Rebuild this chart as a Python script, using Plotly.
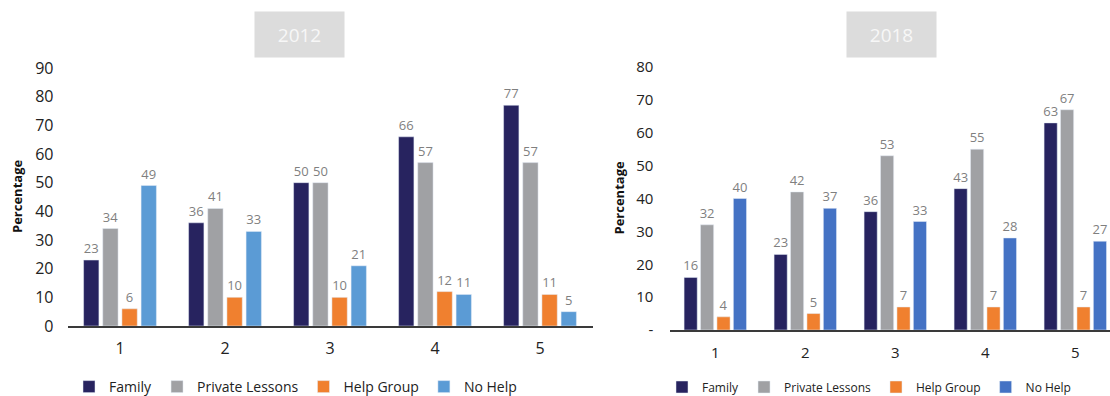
import plotly.graph_objects as go

W, H = 1110, 396

categories = ["1", "2", "3", "4", "5"]
series_names = ["Family", "Private Lessons", "Help Group", "No Help"]

family_2012 = [23, 36, 50, 66, 77]
private_2012 = [34, 41, 50, 57, 57]
helpgroup_2012 = [6, 10, 10, 12, 11]
nohelp_2012 = [49, 33, 21, 11, 5]

family_2018 = [16, 23, 36, 43, 63]
private_2018 = [32, 42, 53, 55, 67]
helpgroup_2018 = [4, 5, 7, 7, 7]
nohelp_2018 = [40, 37, 33, 28, 27]

yticks_2012 = [0, 10, 20, 30, 40, 50, 60, 70, 80, 90]
yticks_2018 = [0, 10, 20, 30, 40, 50, 60, 70, 80]
yticktext_2018 = ["-", "10", "20", "30", "40", "50", "60", "70", "80"]

colors_2012 = ["#27235f", "#a0a1a4", "#f0802f", "#5b9bd5"]
colors_2018 = ["#27235f", "#a0a1a4", "#f0802f", "#4472c4"]

FONT = "Open Sans"
LABEL_GRAY = "#7f7f7f"
DARK = "#222222"

def px_x(p):
    return p / W

def px_y(p):
    return 1 - p / H

fig = go.Figure()

data_2012 = [family_2012, private_2012, helpgroup_2012, nohelp_2012]
data_2018 = [family_2018, private_2018, helpgroup_2018, nohelp_2018]

for name, vals, col in zip(series_names, data_2012, colors_2012):
    fig.add_trace(go.Bar(
        x=categories, y=vals, name=name, marker_color=col,
        text=vals, textposition="outside", cliponaxis=False,
        constraintext="none",
        textfont=dict(family=FONT, size=13, color=LABEL_GRAY),
        xaxis="x", yaxis="y", legend="legend",
    ))

for name, vals, col in zip(series_names, data_2018, colors_2018):
    fig.add_trace(go.Bar(
        x=categories, y=vals, name=name, marker_color=col,
        text=vals, textposition="outside", cliponaxis=False,
        constraintext="none",
        textfont=dict(family=FONT, size=13, color=LABEL_GRAY),
        xaxis="x2", yaxis="y2", legend="legend2",
    ))

# geometry (pixels)
L_x0, L_x1 = 67.5, 592.5
L_y0, L_y1 = 326, 68
R_x0 = 670.3
R_pitch = 90.0
R_y0, R_y1 = 330, 67
R_range_end = -0.5 + (W - R_x0) / R_pitch

fig.update_layout(
    width=W, height=H,
    margin=dict(l=0, r=0, t=0, b=0, autoexpand=False),
    paper_bgcolor="white", plot_bgcolor="white",
    barmode="group", bargap=0.27, bargroupgap=0.2,
    font=dict(family=FONT, color=DARK),
    xaxis=dict(
        domain=[px_x(L_x0), px_x(L_x1)], anchor="y",
        type="category", range=[-0.5, 4.5],
        showline=True, linecolor="#3a3a3a", linewidth=1.5,
        showgrid=False, zeroline=False, ticks="",
        ticklabelstandoff=7,
        tickfont=dict(family=FONT, size=16, color=DARK),
    ),
    yaxis=dict(
        domain=[px_y(L_y0), px_y(L_y1)], anchor="x",
        range=[0, 90], tickvals=yticks_2012,
        showline=False, showgrid=False, zeroline=False, ticks="",
        ticklabelstandoff=13,
        tickfont=dict(family=FONT, size=16, color=DARK),
    ),
    xaxis2=dict(
        domain=[px_x(R_x0), 1.0], anchor="y2",
        type="category", range=[-0.5, R_range_end],
        showline=True, linecolor="#3a3a3a", linewidth=1.5,
        showgrid=False, zeroline=False, ticks="",
        ticklabelstandoff=8,
        tickfont=dict(family=FONT, size=15, color=DARK),
    ),
    yaxis2=dict(
        domain=[px_y(R_y0), px_y(R_y1)], anchor="x2",
        range=[0, 80], tickvals=yticks_2018, ticktext=yticktext_2018,
        showline=False, showgrid=False, zeroline=False, ticks="",
        ticklabelstandoff=16,
        tickfont=dict(family=FONT, size=15, color=DARK),
    ),
    legend=dict(
        orientation="h", x=px_x(69), xanchor="left",
        y=px_y(387), yanchor="middle",
        font=dict(family=FONT, size=14, color=DARK),
        bgcolor="rgba(0,0,0,0)",
    ),
    legend2=dict(
        orientation="h", x=px_x(662), xanchor="left",
        y=px_y(387), yanchor="middle",
        font=dict(family=FONT, size=12, color=DARK),
        bgcolor="rgba(0,0,0,0)",
    ),
)

annotations = [
    dict(text="2012", x=px_x(299.5), y=px_y(34.5), xref="paper", yref="paper",
         xanchor="center", yanchor="middle", showarrow=False,
         width=89, height=45, borderpad=0, bgcolor="#dcdcdc",
         font=dict(family=FONT, size=19, color="#f7f7f7")),
    dict(text="2018", x=px_x(891), y=px_y(34.5), xref="paper", yref="paper",
         xanchor="center", yanchor="middle", showarrow=False,
         width=89, height=45, borderpad=0, bgcolor="#dcdcdc",
         font=dict(family=FONT, size=19, color="#f7f7f7")),
    dict(text="<b>Percentage</b>", x=px_x(17), y=px_y((L_y0 + L_y1) / 2),
         xref="paper", yref="paper", xanchor="center", yanchor="middle",
         showarrow=False, textangle=-90,
         font=dict(family=FONT, size=13, color="#111111")),
    dict(text="<b>Percentage</b>", x=px_x(618), y=px_y((R_y0 + R_y1) / 2),
         xref="paper", yref="paper", xanchor="center", yanchor="middle",
         showarrow=False, textangle=-90,
         font=dict(family=FONT, size=13, color="#111111")),
]
fig.update_layout(annotations=annotations)

fig.write_html("out.html")
